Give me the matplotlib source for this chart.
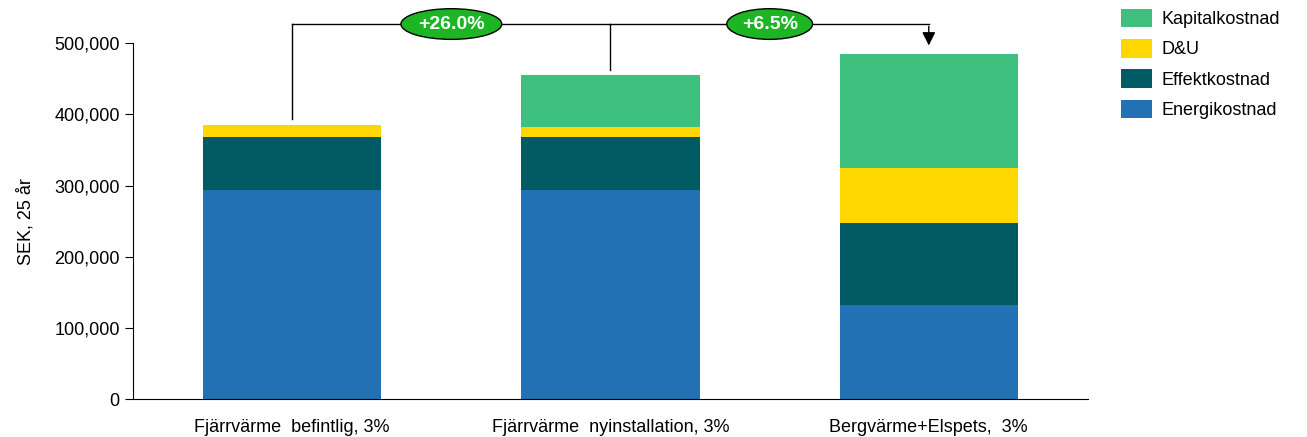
import matplotlib.pyplot as plt
import numpy as np

plt.rcParams['font.family'] = ['Liberation Sans', 'DejaVu Sans']
plt.rcParams['font.size'] = 13

# Chart data (SEK over 25 years)
categories = ['Fjärrvärme  befintlig, 3%', 'Fjärrvärme  nyinstallation, 3%', 'Bergvärme+Elspets,  3%']
energikostnad = [294000, 294000, 132000]
effektkostnad = [75000, 75000, 116000]
du = [16000, 14000, 77000]
kapitalkostnad = [0, 72000, 160000]
change_labels = ['+26.0%', '+6.5%']

series = [('Energikostnad', energikostnad, '#2271B5'),
          ('Effektkostnad', effektkostnad, '#005A64'),
          ('D&U', du, '#FFD700'),
          ('Kapitalkostnad', kapitalkostnad, '#3EC07E')]

fig = plt.figure(figsize=(13.07, 4.37), dpi=100)
ax = fig.add_axes([0.1018, 0.0863, 0.7306, 0.8147])

x = np.arange(len(categories))
bottom = np.zeros(len(categories))
for name, vals, col in series:
    ax.bar(x, vals, 0.56, bottom=bottom, color=col, label=name)
    bottom += np.array(vals)
totals = bottom

ax.set_xlim(-0.5, 2.5)
ax.set_ylim(0, 500000)
ax.set_yticks(np.arange(0, 500001, 100000))
ax.yaxis.set_major_formatter(plt.FuncFormatter(lambda v, p: f'{int(v):,}'))
ax.set_xticks(x)
ax.set_xticklabels(categories)
ax.tick_params(axis='x', length=0, pad=14)
ax.tick_params(axis='y', length=6, direction='out')
ax.spines['top'].set_visible(False)
ax.spines['right'].set_visible(False)
ax.set_ylabel('SEK, 25 år', labelpad=14)

# Bracket comparing the first two options with the last one
level = 527000
ax.plot([x[0], x[0]], [totals[0] + 8000, level], color='black', lw=1, clip_on=False)
ax.plot([x[1], x[1]], [totals[1] + 8000, level], color='black', lw=1, clip_on=False)
ax.plot([x[0], x[2]], [level, level], color='black', lw=1, clip_on=False)
ax.annotate('', xy=(x[2], totals[2] + 8000), xytext=(x[2], level + 700),
            arrowprops=dict(arrowstyle='-|>', color='black', lw=1, mutation_scale=20),
            annotation_clip=False)
for xp, lab in zip([0.5, 1.5], change_labels):
    ax.text(xp, level, lab, ha='center', va='center', color='white', fontweight='bold',
            fontsize=14, clip_on=False,
            bbox=dict(boxstyle='ellipse,pad=0.12', fc='#1DB524', ec='black', lw=1))

handles, labels = ax.get_legend_handles_labels()
fig.legend(handles[::-1], labels[::-1], loc='upper left', bbox_to_anchor=(0.858, 0.98),
           frameon=False, handlelength=1.67, handleheight=1.22, labelspacing=0.6,
           handletextpad=0.55, borderpad=0, borderaxespad=0)

fig.savefig('out.png', dpi=100)
